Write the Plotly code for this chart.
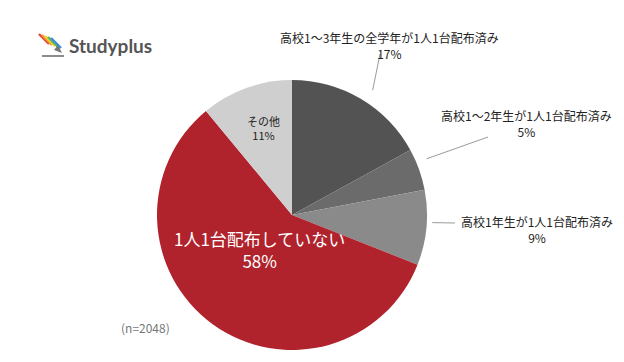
import math
import plotly.graph_objects as go

W, H = 624, 362
OFF = 8  # page body margin offset

categories = ["高校1〜3年生の全学年が1人1台配布済み", "高校1〜2年生が1人1台配布済み",
              "高校1年生が1人1台配布済み", "1人1台配布していない", "その他"]
values = [17, 5, 9, 58, 11]
colors = ["#535353", "#6b6b6b", "#8a8a8a", "#b0232c", "#cfcfcf"]
note = "(n=2048)"

cx, cy, R = 292, 215, 135

def px(x):
    return (x - OFF) / W

def py(y):
    return 1 - (y - OFF) / H

fig = go.Figure(go.Pie(
    labels=categories, values=values, sort=False, direction="clockwise", rotation=0,
    marker=dict(colors=colors, line=dict(width=0)),
    textinfo="none", hoverinfo="label+percent", showlegend=False,
    domain=dict(x=[px(cx - R), px(cx + R)], y=[py(cy + R), py(cy - R)]),
))

total = sum(values)
mids = []
acc = 0
for v in values:
    mids.append((acc + v / 2) / total * 2 * math.pi)
    acc += v

# label placement (pixels): text x, text y, line end x, line end y, start radius factor, angle tweak
outside = {
    0: (389, 46, 380, 54, 1.10, 0.04),
    1: (526, 123, 488, 137, 1.08, -0.05),
    2: (537, 229, 455, 223, 1.04, -0.04),
}
shapes = []
annotations = []
for i, (tx, ty, ex, ey, rs, da) in outside.items():
    a = mids[i] + da
    sx = cx + R * rs * math.sin(a)
    sy = cy - R * rs * math.cos(a)
    shapes.append(dict(type="line", xref="paper", yref="paper",
                       x0=px(sx), y0=py(sy), x1=px(ex), y1=py(ey),
                       line=dict(color="#9a9a9a", width=1)))
    annotations.append(dict(x=px(tx), y=py(ty), xref="paper", yref="paper",
                            xanchor="center", yanchor="middle",
                            text=f"{categories[i]}<br>{values[i]}%", showarrow=False,
                            font=dict(size=12, color="#222222"), align="center"))

annotations.append(dict(x=px(259), y=py(250), xref="paper", yref="paper",
                        xanchor="center", yanchor="middle",
                        text=f"{categories[3]}<br>{values[3]}%", showarrow=False,
                        font=dict(size=17, color="#ffffff"), align="center"))
annotations.append(dict(x=px(263), y=py(128), xref="paper", yref="paper",
                        xanchor="center", yanchor="middle",
                        text=f"{categories[4]}<br>{values[4]}%", showarrow=False,
                        font=dict(size=11, color="#222222"), align="center"))
annotations.append(dict(x=px(145), y=py(327), xref="paper", yref="paper",
                        xanchor="center", yanchor="middle",
                        text=note, showarrow=False,
                        font=dict(size=12, color="#777777")))
annotations.append(dict(x=px(67), y=py(46), xref="paper", yref="paper",
                        xanchor="left", yanchor="middle",
                        text="<b>Studyplus</b>", showarrow=False,
                        font=dict(size=19, color="#555555", family="Lato, Roboto, sans-serif")))

# logo stripes
logo_cols = ["#e8423b", "#f29a2e", "#f5d430", "#5cb85c", "#3a8fd9"]
for k, c in enumerate(logo_cols):
    x0 = 39 + k * 3.0
    y0 = 34 + k * 1.0
    shapes.append(dict(type="line", xref="paper", yref="paper",
                       x0=px(x0), y0=py(y0), x1=px(x0 + 10), y1=py(y0 + 10),
                       line=dict(color=c, width=2.4)))
shapes.append(dict(type="path", xref="paper", yref="paper",
                   path=f"M {px(54)},{py(50)} L {px(62)},{py(53)} L {px(58)},{py(45)} Z",
                   fillcolor="#777777", line=dict(width=0)))
shapes.append(dict(type="line", xref="paper", yref="paper",
                   x0=px(42), y0=py(56), x1=px(64), y1=py(56),
                   line=dict(color="#666666", width=1.5)))

fig.update_layout(
    width=W, height=H, margin=dict(l=0, r=0, t=0, b=0),
    paper_bgcolor="#ffffff", plot_bgcolor="#ffffff",
    font=dict(family="Noto Sans CJK JP, sans-serif"),
    shapes=shapes, annotations=annotations,
)

fig.write_html("out.html")
